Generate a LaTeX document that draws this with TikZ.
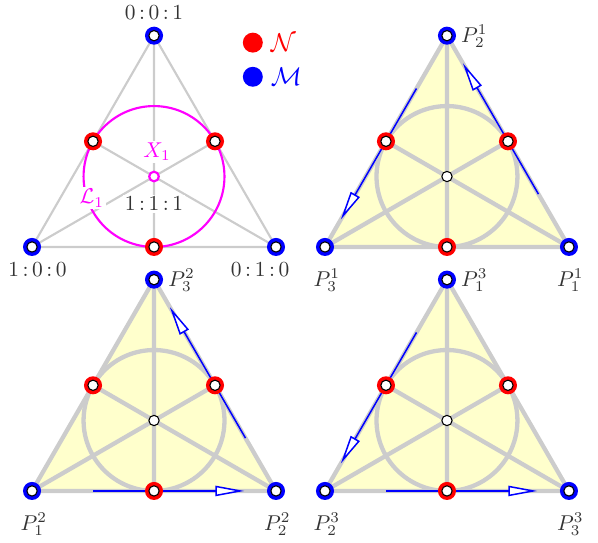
\documentclass[tikz,border=0pt]{standalone}
\usepackage{amsmath}
\usetikzlibrary{arrows.meta, positioning, calc}
\definecolor{txtgray}{HTML}{333333}
\definecolor{edgegray}{HTML}{CCCCCC}
\definecolor{areayellow}{HTML}{FFFFCC}
\definecolor{circmag}{RGB}{255,0,255}
\definecolor{ptred}{RGB}{255,0,0}
\definecolor{ptblue}{RGB}{0,0,255}

\tikzset{
  cdot/.style={circle, fill=white, draw=black, line width=0.5pt, inner sep=0pt, minimum size=4.8pt},
  legdot/.style={circle, fill=#1, inner sep=0pt, minimum size=9.3pt},
  lbl/.style={text=txtgray, fill=white, inner sep=1pt},
  plbl/.style={text=txtgray, inner sep=1pt},
  flow/.style={ptblue, line width=0.7pt, -{Triangle[length=13.5pt, width=4.8pt, fill=white]}},
}

\begin{document}
\begin{tikzpicture}
  \useasboundingbox (-0.525,-0.853) rectangle (9.279,8.049);

  % Triangle of reference with barycentric coordinates
  \begin{scope}[shift={(0,4)}]
    \coordinate (A) at (0,0);
    \coordinate (B) at (4,0);
    \coordinate (C) at (2,3.464);
    \coordinate (AB) at (2,0);
    \coordinate (BC) at (3,1.732);
    \coordinate (CA) at (1,1.732);
    \coordinate (O) at (2,1.155);
    \draw[edgegray, line width=1pt] (A) -- (B) -- (C) -- cycle;
    \draw[edgegray, line width=1pt] (A) -- (BC) (B) -- (CA) (C) -- (AB);
    \draw[circmag, line width=1pt] (O) circle (1.155);

    \fill[ptblue] (A) circle (0.148) (B) circle (0.148) (C) circle (0.148);
    \fill[ptred] (AB) circle (0.148) (BC) circle (0.148) (CA) circle (0.148);
    \node[cdot] (nA) at (A) {};
    \node[cdot] (nB) at (B) {};
    \node[cdot] (nC) at (C) {};
    \node[cdot] (nAB) at (AB) {};
    \node[cdot] (nBC) at (BC) {};
    \node[cdot] (nCA) at (CA) {};
    \node[circle, fill=white, draw=circmag, line width=1pt, inner sep=0pt, minimum size=4.5pt] (nO) at (O) {};

    \node[lbl] (tC) at (2,3.85) {$0\,{:}\,0\,{:}\,1$};
    \node[lbl] (tA) at (0.09,-0.377) {$1\,{:}\,0\,{:}\,0$};
    \node[lbl] (tB) at (3.74,-0.377) {$0\,{:}\,1\,{:}\,0$};
    \node[lbl] (tO) at (2,0.71) {$1\,{:}\,1\,{:}\,1$};
    \node[lbl, text=circmag] (tX) at (2.05,1.56) {$X_1$};
    \node[lbl, text=circmag] (tL) at (0.98,0.80) {$\mathcal{L}_1$};

    % Legend
    \node[legdot=ptred] (legN) at (3.62,3.35) {};
    \node[right=0pt of legN, ptred, font=\large] (legNt) {$\mathcal{N}$};
    \node[legdot=ptblue] (legM) at (3.62,2.79) {};
    \node[right=0pt of legM, ptblue, font=\large] (legMt) {$\mathcal{M}$};
  \end{scope}

  % Three labelled copies with the orientation arrows
  \foreach \sx/\sy/\k/\i/\j/\l in {4.803/4/1/3/1/2, 0/0/2/1/2/3, 4.803/0/3/2/3/1} {
    \begin{scope}[shift={(\sx,\sy)}]
      \coordinate (p\k-\i) at (0,0);
      \coordinate (p\k-\j) at (4,0);
      \coordinate (p\k-\l) at (2,3.464);
      \coordinate (m\k-\i) at (3,1.732);
      \coordinate (m\k-\j) at (1,1.732);
      \coordinate (m\k-\l) at (2,0);
      \coordinate (o\k) at (2,1.155);
      \fill[areayellow] (p\k-1) -- (p\k-2) -- (p\k-3) -- cycle;
      \draw[edgegray, line width=2pt] (p\k-1) -- (p\k-2) -- (p\k-3) -- cycle;
      \draw[edgegray, line width=2pt] (p\k-1) -- (m\k-1) (p\k-2) -- (m\k-2) (p\k-3) -- (m\k-3);
      \draw[edgegray, line width=2pt] (o\k) circle (1.155);
      \draw[flow] ($(p\k-1)!0.25!(p\k-2)$) -- ($(p\k-1)!0.87!(p\k-2)$);
      \draw[flow] ($(p\k-2)!0.25!(p\k-3)$) -- ($(p\k-2)!0.87!(p\k-3)$);
      \foreach \v in {1,2,3} {
        \fill[ptblue] (p\k-\v) circle (0.148);
        \fill[ptred] (m\k-\v) circle (0.148);
        \node[cdot] (v\k-\v) at (p\k-\v) {};
        \node[cdot] (w\k-\v) at (m\k-\v) {};
      }
      \node[cdot] (c\k) at (o\k) {};
      \node[plbl] (t\k-\i) at (0.03,-0.55) {$P_{\i}^{\k}$};
      \node[plbl] (t\k-\j) at (4.02,-0.55) {$P_{\j}^{\k}$};
      \node[plbl] (t\k-\l) at (2.45,3.45) {$P_{\l}^{\k}$};
    \end{scope}
  }
\end{tikzpicture}
\end{document}
